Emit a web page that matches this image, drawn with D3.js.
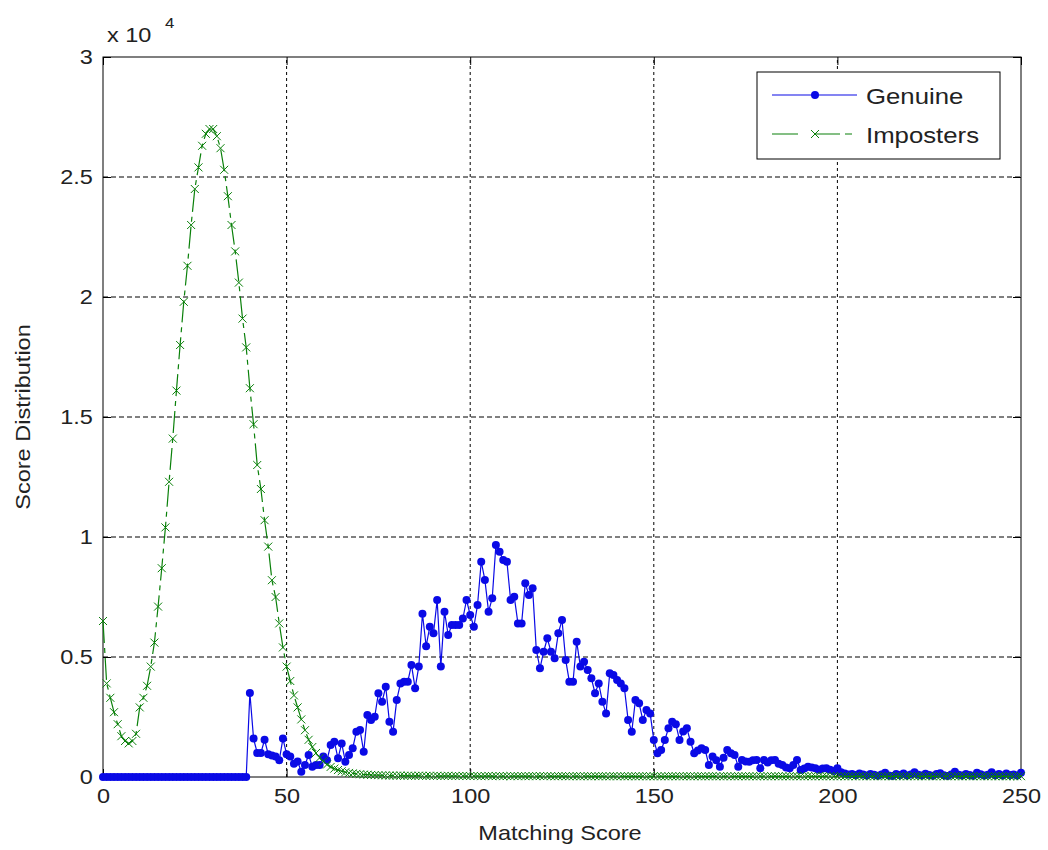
<!DOCTYPE html>
<html>
<head>
<meta charset="utf-8">
<script src="https://cdn.jsdelivr.net/npm/d3@7"></script>
<style>
  body { margin: 0; background: #fff; }
  svg { display: block; }
  text { font-family: "Liberation Sans", Arial, sans-serif; fill: #222; }
</style>
</head>
<body>
<svg></svg>
<script>
// x ticks / y ticks
const xTicks = [0, 50, 100, 150, 200, 250];
const yTicks = [0, 5000, 10000, 15000, 20000, 25000, 30000];

// matching score bins 0..250
const scores = d3.range(0, 251);

// imposters counts, one per score bin
const imposters = [
  6500, 3900, 3300, 2700, 2200, 1700, 1500, 1400, 1500, 1800,
  2900, 3300, 3800, 4600, 5600, 7100, 8700, 10400, 12300, 14100,
  16100, 18000, 19800, 21300, 23000, 24500, 25400, 26300, 26800, 27000,
  27000, 26700, 26200, 25300, 24200, 23000, 21900, 20600, 19100, 17900,
  16200, 14700, 13000, 12000, 10700, 9600, 8200, 7500, 6400, 5400,
  4600, 4000, 3400, 2900, 2400, 1950, 1550, 1250, 1000, 800,
  650, 520, 420, 350, 290, 240, 200, 170, 150, 130,
  115, 100, 95, 85, 80, 75, 70, 65, 60, 60,
  55, 60, 50, 55, 50, 45, 55, 50, 45, 50,
  45, 50, 40, 45, 50, 40, 45, 40, 45, 40,
  40, 45, 40, 35, 40, 45, 35, 40, 40, 35,
  40, 35, 40, 35, 40, 35, 35, 40, 35, 40,
  35, 40, 35, 30, 35, 40, 35, 30, 35, 35,
  30, 35, 35, 30, 35, 30, 35, 30, 30, 35,
  30, 35, 30, 30, 35, 30, 30, 35, 30, 30,
  30, 35, 30, 30, 30, 35, 30, 30, 30, 35,
  30, 30, 35, 30, 30, 30, 35, 30, 30, 30,
  35, 30, 30, 30, 35, 30, 30, 30, 30, 35,
  30, 30, 30, 35, 30, 30, 30, 30, 35, 30,
  30, 30, 35, 30, 30, 30, 30, 35, 30, 30,
  30, 35, 30, 30, 30, 30, 35, 30, 30, 30,
  30, 35, 30, 30, 30, 30, 35, 30, 30, 30,
  35, 30, 30, 30, 30, 35, 30, 30, 30, 30,
  35, 30, 30, 30, 30, 35, 30, 30, 30, 30,
  35, 30, 30, 30, 30, 35, 30, 30, 30, 30,
  35
];

// genuine counts, one per score bin
const genuine = [
  0, 0, 0, 0, 0, 0, 0, 0, 0, 0,
  0, 0, 0, 0, 0, 0, 0, 0, 0, 0,
  0, 0, 0, 0, 0, 0, 0, 0, 0, 0,
  0, 0, 0, 0, 0, 0, 0, 0, 0, 0,
  3500, 1600, 1000, 1000, 1550, 950, 900, 850, 700, 1600,
  950, 850, 550, 650, 220, 500, 920, 430, 500, 500,
  850, 700, 1330, 1470, 780, 1400, 640, 920, 1200, 1890,
  1960, 1050, 2580, 2380, 2510, 3490, 3140, 3760, 2300, 1890,
  3210, 3900, 3970, 3970, 4670, 3700, 4600, 6800, 5450, 6260,
  5990, 7375, 4600, 6890, 5920, 6330, 6330, 6330, 6600, 7375,
  6750, 6260, 7170, 8970, 8210, 6890, 7450, 9670, 9390, 9040,
  8970, 7375, 7510, 6400, 6400, 8070, 7580, 7860, 5290, 4530,
  5220, 5780, 5220, 4950, 5990, 6540, 4880, 3970, 3970, 5640,
  4600, 4800, 4460, 4110, 3490, 3900, 3140, 2650, 4320, 4250,
  4040, 3900, 3700, 2380, 1890, 3210, 3070, 2380, 2790, 2650,
  1540, 990, 1125, 1540, 2030, 2300, 2200, 1540, 1900, 2030,
  1470, 990, 1100, 1200, 1125, 500, 850, 700, 430, 800,
  1125, 990, 920, 430, 710, 650, 640, 700, 710, 360,
  710, 600, 700, 710, 550, 500, 400, 360, 500, 710,
  290, 350, 430, 400, 360, 300, 350, 360, 300, 250,
  360, 200, 150, 100, 120, 80, 150, 100, 60, 120,
  90, 50, 100, 180, 60, 40, 120, 80, 150, 60,
  100, 200, 90, 60, 140, 80, 50, 120, 160, 70,
  40, 100, 220, 90, 60, 130, 80, 50, 180, 110,
  60, 90, 200, 70, 120, 60, 150, 80, 100, 60,
  180
];

const width = 1048, height = 850;
const sx = 1.12; // text in the original is a bit wider than Arial

const svg = d3.select('svg')
  .attr('width', width)
  .attr('height', height);

const x = d3.scaleLinear().domain([0, 250]).range([103, 1021]);
const y = d3.scaleLinear().domain([0, 30000]).range([777, 57]);

// grid
const grid = svg.append('g');
grid.selectAll('.gx')
  .data(xTicks.slice(1, -1))
  .enter().append('line')
    .attr('x1', d => x(d)).attr('x2', d => x(d))
    .attr('y1', y(0)).attr('y2', y(30000))
    .attr('stroke', '#000')
    .attr('stroke-width', 1)
    .attr('stroke-dasharray', '3,3');
grid.selectAll('.gy')
  .data(yTicks.slice(1, -1))
  .enter().append('line')
    .attr('x1', x(0)).attr('x2', x(250))
    .attr('y1', d => y(d)).attr('y2', d => y(d))
    .attr('stroke', '#000')
    .attr('stroke-width', 1)
    .attr('stroke-dasharray', '5,3');

// axes, MATLAB style inward ticks on all four sides
let styleAxis = (g) => {
  g.attr('font-size', null).attr('font-family', null);
  g.select('.domain').remove();
  g.selectAll('line').attr('stroke', '#000');
  g.selectAll('text')
    .attr('font-size', 21)
    .attr('fill', '#222')
    .attr('transform', `scale(${sx},1)`);
};
svg.append('g')
  .attr('transform', `translate(0,${y(0)})`)
  .call(d3.axisBottom(x).tickValues(xTicks).tickSizeInner(-8).tickSizeOuter(0).tickPadding(11))
  .call(styleAxis);
svg.append('g')
  .attr('transform', `translate(0,${y(30000)})`)
  .call(d3.axisTop(x).tickValues(xTicks).tickSizeInner(-8).tickSizeOuter(0).tickFormat(''))
  .call(styleAxis);
svg.append('g')
  .attr('transform', `translate(${x(0)},0)`)
  .call(d3.axisLeft(y).tickValues(yTicks).tickSizeInner(-8).tickSizeOuter(0).tickPadding(9)
    .tickFormat(d => d / 1e4))
  .call(styleAxis);
svg.append('g')
  .attr('transform', `translate(${x(250)},0)`)
  .call(d3.axisRight(y).tickValues(yTicks).tickSizeInner(-8).tickSizeOuter(0).tickFormat(''))
  .call(styleAxis);

// frame
svg.append('rect')
  .attr('x', x(0)).attr('y', y(30000))
  .attr('width', x(250) - x(0)).attr('height', y(0) - y(30000))
  .attr('fill', 'none')
  .attr('stroke', '#000')
  .attr('stroke-width', 1);

// series
const line = d3.line()
  .x((d, i) => x(scores[i]))
  .y(d => y(d));

const blue = '#0a0ae6';
const green = '#0a800a';
const dashDot = '22,5,5,5';
const cross = 'M-4,-4L4,4M-4,4L4,-4';

svg.append('path')
  .datum(genuine)
  .attr('fill', 'none')
  .attr('stroke', blue)
  .attr('stroke-width', 1.2)
  .attr('d', line);
svg.append('g').selectAll('circle')
  .data(genuine)
  .enter().append('circle')
    .attr('cx', (d, i) => x(scores[i]))
    .attr('cy', d => y(d))
    .attr('r', 4)
    .attr('fill', blue);

svg.append('path')
  .datum(imposters)
  .attr('fill', 'none')
  .attr('stroke', green)
  .attr('stroke-width', 1.2)
  .attr('stroke-dasharray', dashDot)
  .attr('d', line);
svg.append('g').selectAll('path')
  .data(imposters)
  .enter().append('path')
    .attr('transform', (d, i) => `translate(${x(scores[i])},${y(d)})`)
    .attr('d', cross)
    .attr('fill', 'none')
    .attr('stroke', green)
    .attr('stroke-width', 1);

// exponent label
svg.append('text')
  .attr('transform', `translate(107,42) scale(${sx},1)`)
  .attr('font-size', 21)
  .text('x 10');
svg.append('text')
  .attr('transform', `translate(165,28) scale(${sx},1)`)
  .attr('font-size', 15)
  .text('4');

// axis labels
svg.append('text')
  .attr('transform', `translate(560,840) scale(${sx},1)`)
  .attr('text-anchor', 'middle')
  .attr('font-size', 21)
  .text('Matching Score');
svg.append('text')
  .attr('transform', `translate(30,417) rotate(-90) scale(${sx},1)`)
  .attr('text-anchor', 'middle')
  .attr('font-size', 21)
  .text('Score Distribution');

// legend
const legend = svg.append('g');
legend.append('rect')
  .attr('x', 757).attr('y', 72)
  .attr('width', 243).attr('height', 87)
  .attr('fill', '#fff')
  .attr('stroke', '#000')
  .attr('stroke-width', 1);
legend.append('line')
  .attr('x1', 772).attr('x2', 857).attr('y1', 95).attr('y2', 95)
  .attr('stroke', blue).attr('stroke-width', 1.2);
legend.append('circle')
  .attr('cx', 815).attr('cy', 95).attr('r', 4).attr('fill', blue);
legend.append('text')
  .attr('transform', `translate(866,104) scale(${sx},1)`)
  .attr('font-size', 23)
  .text('Genuine');
legend.append('line')
  .attr('x1', 772).attr('x2', 857).attr('y1', 134).attr('y2', 134)
  .attr('stroke', green).attr('stroke-width', 1.2)
  .attr('stroke-dasharray', '26,17,25,5,7,5');
legend.append('path')
  .attr('transform', 'translate(815,134)')
  .attr('d', cross)
  .attr('fill', 'none')
  .attr('stroke', green);
legend.append('text')
  .attr('transform', `translate(866,143) scale(${sx},1)`)
  .attr('font-size', 23)
  .text('Imposters');
</script>
</body>
</html>
